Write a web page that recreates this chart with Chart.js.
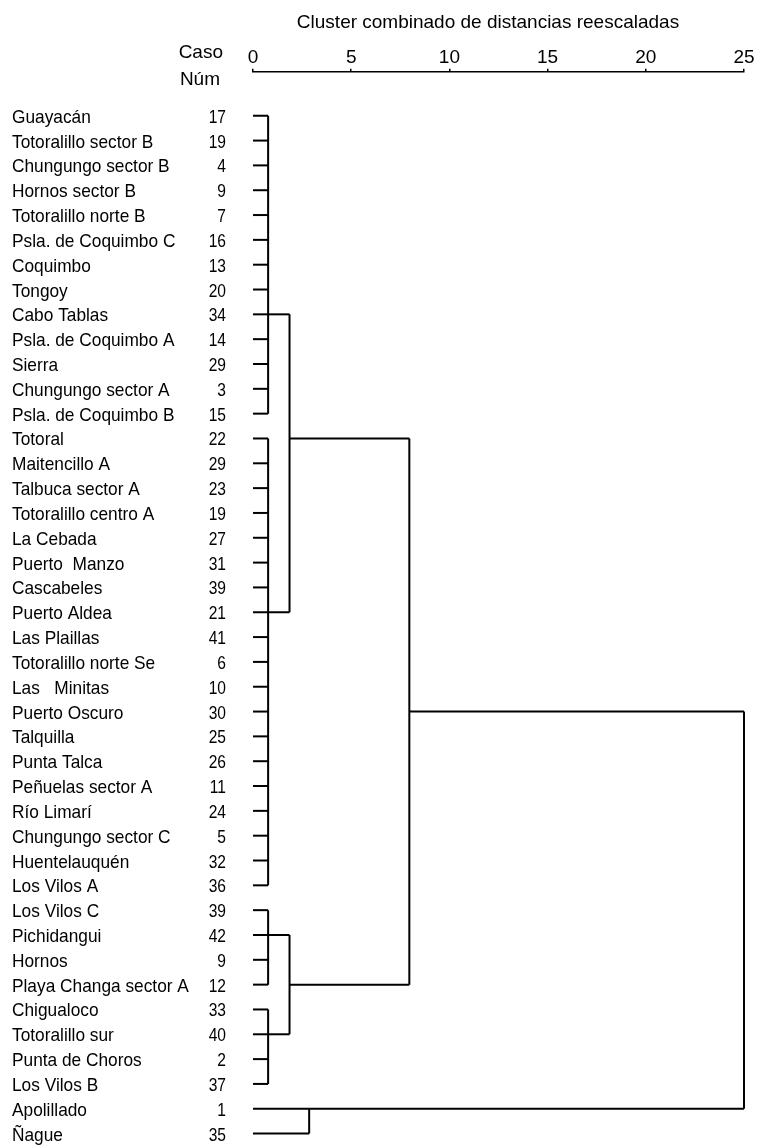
<!DOCTYPE html>
<html>
<head>
<meta charset="utf-8">
<script src="https://cdn.jsdelivr.net/npm/chart.js@4.4.1/dist/chart.umd.min.js"></script>
<style>
  body { margin: 0; background: #fff; }
</style>
</head>
<body>
<canvas id="dendro" width="762" height="1146"></canvas>
<script>
// casos (filas del dendrograma, de arriba a abajo)
const names = [
  'Guayacán', 'Totoralillo sector B', 'Chungungo sector B', 'Hornos sector B',
  'Totoralillo norte B', 'Psla. de Coquimbo C', 'Coquimbo', 'Tongoy', 'Cabo Tablas',
  'Psla. de Coquimbo A', 'Sierra', 'Chungungo sector A', 'Psla. de Coquimbo B',
  'Totoral', 'Maitencillo A', 'Talbuca sector A', 'Totoralillo centro A', 'La Cebada',
  'Puerto  Manzo', 'Cascabeles', 'Puerto Aldea', 'Las Plaillas', 'Totoralillo norte Se',
  'Las   Minitas', 'Puerto Oscuro', 'Talquilla', 'Punta Talca', 'Peñuelas sector A',
  'Río Limarí', 'Chungungo sector C', 'Huentelauquén', 'Los Vilos A', 'Los Vilos C',
  'Pichidangui', 'Hornos', 'Playa Changa sector A', 'Chigualoco', 'Totoralillo sur',
  'Punta de Choros', 'Los Vilos B', 'Apolillado', 'Ñague'
];
const caseNums = [
  17, 19, 4, 9, 7, 16, 13, 20, 34, 14, 29, 3, 15, 22, 29, 23, 19, 27, 31, 39, 21,
  41, 6, 10, 30, 25, 26, 11, 24, 5, 32, 36, 39, 42, 9, 12, 33, 40, 2, 37, 1, 35
];

// fusiones: hojas 0..41, cada fusion k crea el nodo 42 + k
const mergeMembers = [
  [0, 1, 2, 3, 4, 5, 6, 7, 8, 9, 10, 11, 12],
  [13, 14, 15, 16, 17, 18, 19, 20, 21, 22, 23, 24, 25, 26, 27, 28, 29, 30, 31],
  [32, 33, 34, 35],
  [36, 37, 38, 39],
  [40, 41],
  [42, 43],
  [44, 45],
  [47, 48],
  [49, 46]
];
const mergeHeights = [0.77, 0.77, 0.77, 0.77, 2.86, 1.86, 1.86, 7.96, 25];
// fila por la que sale la rama del grupo fusionado
const mergeRows = [8, 20, 33, 37, 40, 13, 35, 24, null];

const xTicks = [0, 5, 10, 15, 20, 25];

const FONT = "'Liberation Sans', Arial, sans-serif";

const nodeHeight = id => id < names.length ? 0 : mergeHeights[id - names.length];
const nodeRow = id => id < names.length ? id : mergeRows[id - names.length];

const segments = [];
mergeMembers.forEach((members, k) => {
  const h = mergeHeights[k];
  const rows = members.map(nodeRow);
  members.forEach(c => {
    segments.push([{ x: nodeHeight(c), y: nodeRow(c) }, { x: h, y: nodeRow(c) }]);
  });
  segments.push([{ x: h, y: Math.min(...rows) }, { x: h, y: Math.max(...rows) }]);
});

// texto algo estrecho, como en el original
function narrowText(ctx, txt, x, y, sx) {
  ctx.save();
  ctx.translate(x, y);
  ctx.scale(sx, 1);
  ctx.fillText(txt, 0, 0);
  ctx.restore();
}

const labelsPlugin = {
  id: 'labels',
  afterDraw(chart) {
    const ctx = chart.ctx;
    const y = chart.scales.y;
    ctx.save();
    ctx.fillStyle = '#000';
    ctx.font = '19px ' + FONT;
    ctx.textBaseline = 'alphabetic';
    ctx.textAlign = 'center';
    ctx.fillText('Cluster combinado de distancias reescaladas', 488, 28);
    ctx.textAlign = 'right';
    ctx.fillText('Caso', 223, 58);
    ctx.fillText('Núm', 220, 85);
    names.forEach((n, i) => {
      const py = y.getPixelForValue(i) + 7;
      ctx.textAlign = 'left';
      narrowText(ctx, n, 12, py, 0.91);
      ctx.textAlign = 'right';
      narrowText(ctx, String(caseNums[i]), 226, py, 0.82);
    });
    ctx.restore();
  }
};

new Chart(document.getElementById('dendro'), {
  type: 'scatter',
  data: {
    datasets: segments.map(s => ({
      data: s,
      showLine: true,
      borderColor: '#000',
      borderWidth: 2,
      pointRadius: 0,
      clip: false
    }))
  },
  options: {
    responsive: false,
    animation: false,
    devicePixelRatio: 1,
    layout: { padding: { left: 253, right: 18, top: 46, bottom: 0 } },
    plugins: { legend: { display: false }, tooltip: { enabled: false } },
    scales: {
      x: {
        type: 'linear',
        position: 'top',
        min: 0,
        max: 25,
        afterBuildTicks: s => { s.ticks = xTicks.map(v => ({ value: v })); },
        ticks: { color: '#000', font: { family: FONT, size: 19 }, padding: 0, maxRotation: 0 },
        grid: { drawOnChartArea: false, color: '#000', tickLength: 3, lineWidth: 1.5 },
        border: { color: '#000', width: 1.5 }
      },
      y: {
        type: 'linear',
        reverse: true,
        min: -1.77,
        max: 41.5,
        display: false
      }
    }
  },
  plugins: [labelsPlugin]
});
</script>
</body>
</html>
